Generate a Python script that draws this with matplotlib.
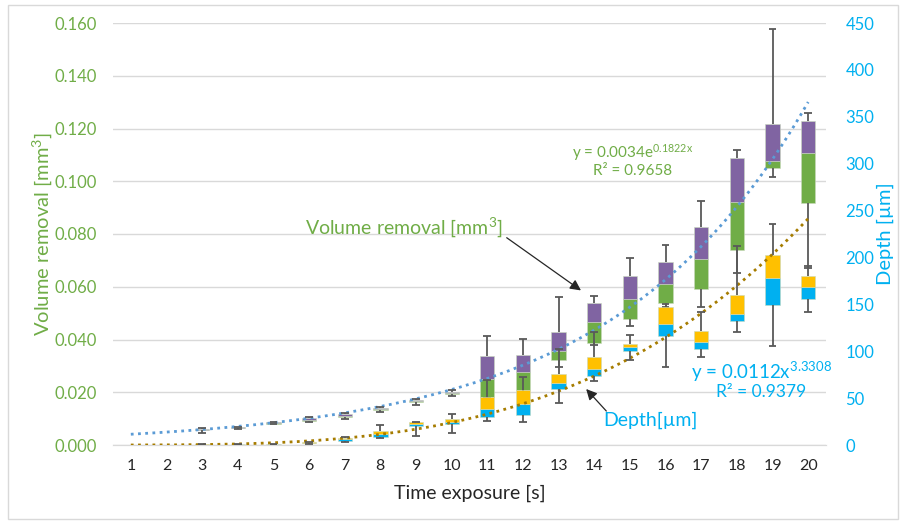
import numpy as np
import matplotlib
matplotlib.use("Agg")
from matplotlib import pyplot as plt
from matplotlib.patches import Rectangle

plt.rcParams['font.family'] = ['Lato', 'DejaVu Sans']
plt.rcParams['mathtext.fontset'] = 'custom'
plt.rcParams['mathtext.rm'] = 'Lato'
plt.rcParams['mathtext.default'] = 'regular'

# time exposure categories
times = list(range(1, 21))

# volume removal [mm3] : whisker low, Q1, median, Q3, whisker high (nan = no data)
vol_lo = [np.nan, np.nan, 0.0047, 0.0062, 0.0078, 0.0087, 0.0100, 0.0126, 0.0153, 0.0186,
          0.0177, 0.0201, 0.0297, 0.0378, 0.0451, 0.0523, 0.0523, 0.0651, 0.1017, 0.0671]
vol_q1 = [np.nan, np.nan, 0.0055, 0.0064, 0.0080, 0.0091, 0.0107, 0.0133, 0.0162, 0.0192,
          0.0183, 0.0208, 0.0322, 0.0388, 0.0476, 0.0537, 0.0591, 0.0739, 0.1049, 0.0918]
vol_med = [np.nan, np.nan, 0.0057, 0.0066, 0.0083, 0.0096, 0.0111, 0.0136, 0.0167, 0.0197,
           0.0249, 0.0276, 0.0357, 0.0467, 0.0552, 0.0610, 0.0704, 0.0922, 0.1076, 0.1108]
vol_q3 = [np.nan, np.nan, 0.0059, 0.0068, 0.0086, 0.0101, 0.0116, 0.0139, 0.0171, 0.0202,
          0.0337, 0.0341, 0.0428, 0.0537, 0.0639, 0.0695, 0.0827, 0.1087, 0.1217, 0.1228]
vol_hi = [np.nan, np.nan, 0.0063, 0.0070, 0.0088, 0.0105, 0.0122, 0.0145, 0.0175, 0.0207,
          0.0415, 0.0403, 0.0562, 0.0566, 0.0710, 0.0758, 0.0926, 0.1118, 0.1577, 0.1257]

# depth [um] : whisker low, Q1, median, Q3, whisker high
dep_lo = [np.nan, np.nan, 0.2, 0.5, 0.5, 1.2, 3.2, 7.1, 9.9, 13.1,
          25.9, 24.5, 45.1, 68.6, 90.6, 83.5, 93.5, 120.8, 105.9, 142.2]
dep_q1 = [np.nan, np.nan, 0.3, 0.6, 0.7, 1.8, 4.3, 8.9, 19.9, 22.1,
          30.2, 32.0, 59.7, 73.9, 100.2, 116.2, 102.0, 132.6, 149.3, 155.4]
dep_med = [np.nan, np.nan, 0.5, 0.8, 1.0, 2.5, 6.0, 11.7, 22.7, 24.8,
           38.4, 43.7, 65.8, 80.7, 104.8, 129.0, 109.5, 139.7, 177.8, 168.2]
dep_q3 = [np.nan, np.nan, 0.7, 1.0, 1.3, 3.2, 7.8, 14.6, 24.5, 27.7,
          51.5, 58.7, 75.7, 94.2, 108.0, 147.2, 121.6, 160.0, 202.6, 180.5]
dep_hi = [np.nan, np.nan, 0.8, 1.2, 1.5, 3.6, 8.9, 21.6, 25.0, 32.7,
          69.3, 72.8, 102.0, 120.8, 117.6, 150.4, 141.8, 212.5, 235.7, 190.9]

# trendline coefficients shown on the chart
exp_a, exp_b = 0.0034, 0.1822
pow_a, pow_b = 0.0112, 3.3308

green = '#70AD47'
purple = '#8064A2'
orange = '#FFC000'
blue = '#00B0F0'
wcol = '#595959'

fig = plt.figure(figsize=(9.06, 5.24), dpi=100)
ax = fig.add_axes([113/906, 1-445/524, (826-113)/906, (445-23)/524])
ax2 = ax.twinx()

x = np.array(times)
w = 0.4
cap = 0.22


def draw_boxes(a, lo, q1, med, q3, hi, c_low, c_up):
    lo, q1, med, q3, hi = map(np.array, (lo, q1, med, q3, hi))
    a.bar(x, med - q1, w, bottom=q1, color=c_low, edgecolor='#C9D9BE', linewidth=0.4, zorder=3)
    a.bar(x, q3 - med, w, bottom=med, color=c_up, edgecolor='#C9D9BE', linewidth=0.4, zorder=3)
    a.vlines(x, q3, hi, color=wcol, lw=1.3, zorder=5)
    a.vlines(x, lo, q1, color=wcol, lw=1.3, zorder=5)
    a.hlines(hi, x - cap/2, x + cap/2, color=wcol, lw=1.3, zorder=5)
    a.hlines(lo, x - cap/2, x + cap/2, color=wcol, lw=1.3, zorder=5)


draw_boxes(ax, vol_lo, vol_q1, vol_med, vol_q3, vol_hi, green, purple)
draw_boxes(ax2, dep_lo, dep_q1, dep_med, dep_q3, dep_hi, blue, orange)

xt = np.linspace(1, 20, 200)
ax.plot(xt, exp_a*np.exp(exp_b*xt), ls=(0, (1, 1.6)), color='#5B9BD5', lw=2, zorder=4)
ax2.plot(xt, pow_a*xt**pow_b, ls=(0, (1, 1.6)), color='#A67C00', lw=2, zorder=4)

ax.set_xlim(0.5, 20.5)
ax.set_ylim(0, 0.16)
ax2.set_ylim(0, 450)
ax.set_yticks(np.arange(0, 0.161, 0.02))
ax.set_yticklabels(['%.3f' % v for v in np.arange(0, 0.161, 0.02)])
ax2.set_yticks(np.arange(0, 451, 50))
ax.set_xticks(x)
ax.set_xticklabels([str(t) for t in times])

ax.grid(axis='y', color='#D9D9D9', lw=1)
ax.set_axisbelow(True)
for a in (ax, ax2):
    for s in ('top', 'left', 'right'):
        a.spines[s].set_visible(False)
    a.spines['bottom'].set_color('#D9D9D9')
ax.tick_params(axis='y', colors=green, labelsize=12, length=0, pad=11.5)
ax2.tick_params(axis='y', colors=blue, labelsize=12, length=0, pad=14)
ax.tick_params(axis='x', colors='#262626', labelsize=11.5, length=0, pad=10)

ax.set_ylabel(r'Volume removal [mm$^3$]', color=green, fontsize=14.5, va='center')
ax.yaxis.set_label_coords(-0.0996, 0.5)
ax2.set_ylabel('Depth [µm]', color=blue, fontsize=14.5, va='center')
ax2.yaxis.set_label_coords(1.083, 0.5)
ax.set_xlabel('Time exposure [s]', color='#262626', fontsize=14, va='center')
ax.xaxis.set_label_coords(0.5, -0.1137)

ax.text(15.07, 0.1110, r'y = 0.0034e$^{0.1822x}$', color=green, fontsize=11, ha='center', va='center')
ax.text(15.07, 0.1038, 'R² = 0.9658', color=green, fontsize=11, ha='center', va='center')
ax.text(18.68, 0.0277, r'y = 0.0112x$^{3.3308}$', color=blue, fontsize=13.5, ha='center', va='center')
ax.text(18.68, 0.0201, 'R² = 0.9379', color=blue, fontsize=12.5, ha='center', va='center')

ax.annotate('', xy=(13.69, 0.0580), xytext=(11.48, 0.0792),
            arrowprops=dict(arrowstyle='-|>', color='#262626', lw=0.9, mutation_scale=16), zorder=6)
ax.text(8.65, 0.0826, r'Volume removal [mm$^3$]', color=green, fontsize=14, ha='center', va='center')
ax.annotate('', xy=(13.72, 0.0220), xytext=(14.39, 0.0121),
            arrowprops=dict(arrowstyle='-|>', color='#262626', lw=0.9, mutation_scale=16), zorder=6)
ax.text(15.57, 0.0095, 'Depth[µm]', color=blue, fontsize=14, ha='center', va='center')

fig.patches.append(Rectangle((8/906, 1-519/524), 890/906, 514/524, transform=fig.transFigure,
                             fill=False, edgecolor='#D9D9D9', lw=1))

fig.savefig('out.png', dpi=100)
